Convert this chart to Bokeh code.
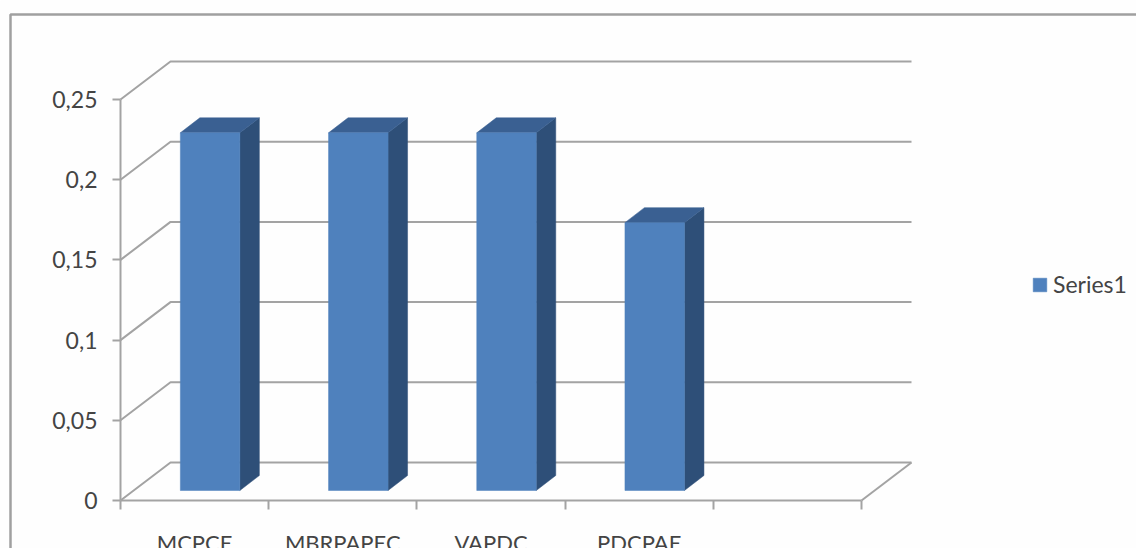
from bokeh.plotting import figure
from bokeh.models import (Range1d, LinearAxis, FixedTicker, Legend, LegendItem, BoxAnnotation)
from bokeh.embed import file_html
from bokeh.resources import INLINE

# ---- data
categories = ["MCPCE", "MBRPAPEC", "VAPDC", "PDCPAE"]
series1 = [0.223, 0.223, 0.223, 0.167]
series_name = "Series1"
y_ticks = [0, 0.05, 0.1, 0.15, 0.2, 0.25]
y_tick_labels = ["0", "0,05", "0,1", "0,15", "0,2", "0,25"]
n_slots = 5

# ---- layout and style
W, H = 1136, 548
PX_X = 148.2            # pixels per category slot
PX_Y = 1604.0           # pixels per unit of value
ORIGIN_X, ORIGIN_Y = 120, 48   # canvas pixels from left / bottom
FONT = "Lato"
TXT = "#444444"
GRID = "#a3a3a3"
FRONT, TOP, SIDE = "#4f81bd", "#3a6092", "#2e4f78"

wall_dx, wall_dy = 50 / PX_X, 38 / PX_Y        # depth of the chart box
bar_dx, bar_dy = 15.5 / PX_X, 10 / PX_Y        # bar offset from the front edge
depth_dx, depth_dy = 19.5 / PX_X, 15 / PX_Y    # bar depth
bar_w = 59.5 / PX_X

p = figure(width=W, height=H, output_backend="svg", toolbar_location=None,
           x_axis_type=None, y_axis_type=None, min_border=0,
           x_range=Range1d(-ORIGIN_X / PX_X, (W - ORIGIN_X) / PX_X),
           y_range=Range1d(-ORIGIN_Y / PX_Y, (H - ORIGIN_Y) / PX_Y))
p.outline_line_color = None
p.background_fill_color = "#fefefe"
p.border_fill_color = "#fefefe"
p.grid.visible = False

# outer chart frame
p.add_layout(BoxAnnotation(left=10, top=H - 14, right=1300, bottom=-100,
                           left_units="screen", right_units="screen",
                           top_units="screen", bottom_units="screen",
                           fill_alpha=0, line_color="#a0a0a0", line_alpha=1, line_width=2.5))

# back wall lines and floor
gx, gy = [], []
for v in y_ticks:
    gx.append([0, wall_dx, n_slots + wall_dx])
    gy.append([v, v + wall_dy, v + wall_dy])
gx.append([n_slots, n_slots + wall_dx])
gy.append([0, wall_dy])
p.multi_line(gx, gy, line_color=GRID, line_width=2)

# bars
fx, fy, tx, ty, sx, sy = [], [], [], [], [], []
for i, v in enumerate(series1):
    x0 = i + 0.5 + bar_dx - bar_w / 2
    x1 = x0 + bar_w
    y0 = bar_dy
    y1 = v + bar_dy
    fx.append([x0, x1, x1, x0]); fy.append([y0, y0, y1, y1])
    tx.append([x0, x1, x1 + depth_dx, x0 + depth_dx]); ty.append([y1, y1, y1 + depth_dy, y1 + depth_dy])
    sx.append([x1, x1 + depth_dx, x1 + depth_dx, x1]); sy.append([y0, y0 + depth_dy, y1 + depth_dy, y1])
p.patches(sx, sy, fill_color=SIDE, line_color=SIDE, line_width=0.5)
p.patches(tx, ty, fill_color=TOP, line_color=TOP, line_width=0.5)
front = p.patches(fx, fy, fill_color=FRONT, line_color=FRONT, line_width=0.5)

# axes
yaxis = LinearAxis(fixed_location=0, bounds=(0, 0.25), ticker=FixedTicker(ticks=y_ticks),
                   major_label_overrides={t: l for t, l in zip(y_ticks, y_tick_labels)})
yaxis.major_tick_out = 8
yaxis.major_tick_in = 0
yaxis.minor_tick_out = 0
yaxis.minor_tick_in = 0
yaxis.major_label_standoff = 15
yaxis.major_label_text_font = FONT
yaxis.major_label_text_font_size = "23px"
yaxis.major_label_text_color = TXT
yaxis.axis_line_color = GRID
yaxis.axis_line_width = 2
yaxis.major_tick_line_color = GRID
yaxis.major_tick_line_width = 2
p.add_layout(yaxis, "left")

xticks = [i + 0.5 for i in range(len(categories))]
xaxis = LinearAxis(fixed_location=0, bounds=(0, n_slots),
                   ticker=FixedTicker(ticks=xticks, minor_ticks=list(range(n_slots + 1))),
                   major_label_overrides={t: c for t, c in zip(xticks, categories)})
xaxis.major_tick_out = 0
xaxis.major_tick_in = 0
xaxis.minor_tick_out = 9
xaxis.minor_tick_in = 0
xaxis.minor_tick_line_color = GRID
xaxis.minor_tick_line_width = 2
xaxis.major_label_standoff = 19
xaxis.major_label_text_font = FONT
xaxis.major_label_text_font_size = "22px"
xaxis.major_label_text_color = TXT
xaxis.axis_line_color = GRID
xaxis.axis_line_width = 2
p.add_layout(xaxis, "below")

legend = Legend(items=[LegendItem(label=series_name, renderers=[front])],
                location=(1031, 250), margin=0, padding=0,
                background_fill_alpha=0, border_line_color=None,
                glyph_width=17, glyph_height=17, label_standoff=5,
                label_text_font=FONT, label_text_font_size="23px",
                label_text_color=TXT)
p.add_layout(legend, "center")

open("out.html", "w").write(file_html(p, INLINE))
